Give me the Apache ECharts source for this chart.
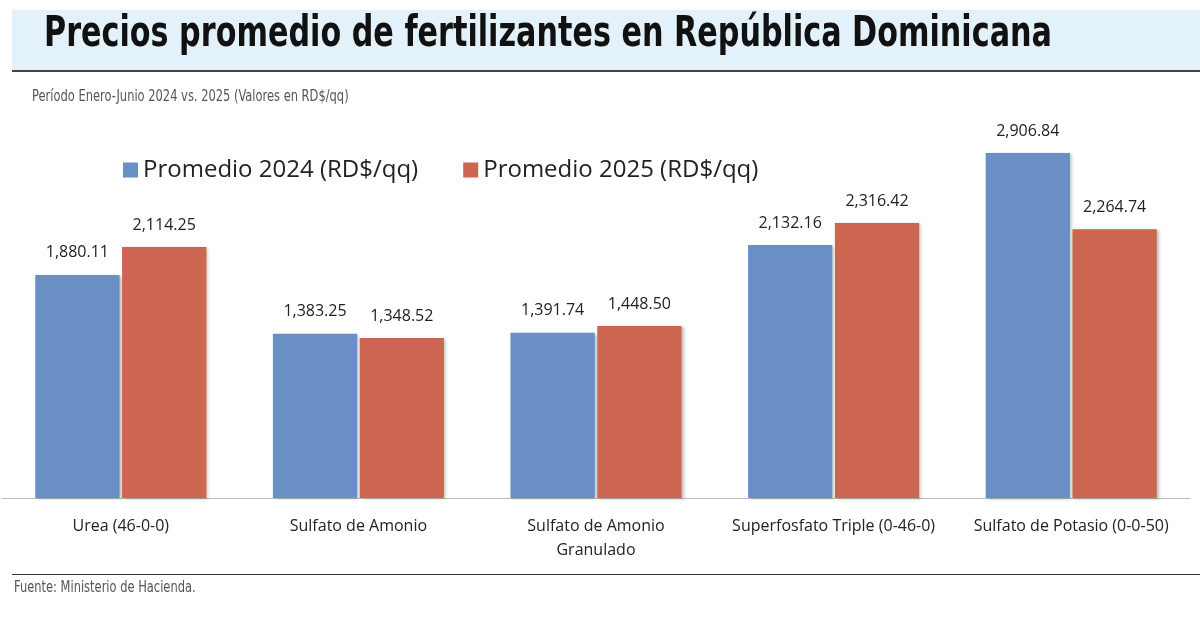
<!DOCTYPE html>
<html><head><meta charset="utf-8">
<script src="https://cdn.jsdelivr.net/npm/echarts@6/dist/echarts.min.js"></script>
<style>html,body{margin:0;background:#fff}#c{width:1200px;height:621px}</style>
</head><body><div id="c"></div>
<script>
const categories = ['Urea (46-0-0)', 'Sulfato de Amonio', 'Sulfato de Amonio\nGranulado', 'Superfosfato Triple (0-46-0)', 'Sulfato de Potasio (0-0-50)'];
const prom2024 = [1880.11, 1383.25, 1391.74, 2132.16, 2906.84];
const prom2025 = [2114.25, 1348.52, 1448.50, 2316.42, 2264.74];

const BLUE = '#6a8fc4';
const RED  = '#cd6651';
const fmt = v => v.toLocaleString('en-US', { minimumFractionDigits: 2, maximumFractionDigits: 2 });

const chart = echarts.init(document.getElementById('c'));
const label = {
    show: true, position: 'top', distance: 14, color: '#222',
    fontFamily: 'Open Sans, sans-serif', fontSize: 16,
    formatter: p => fmt(p.value)
};
const shadow = { shadowColor: 'rgba(0,0,0,0.25)', shadowBlur: 3, shadowOffsetX: 2, shadowOffsetY: 1 };

chart.setOption({
    animation: false,
    graphic: [
        { type: 'rect', shape: { x: 12, y: 10, width: 1188, height: 60 }, style: { fill: '#e3f1fb' } },
        { type: 'rect', shape: { x: 12, y: 70, width: 1188, height: 2 }, style: { fill: '#444' } },
        { type: 'text', x: 44, y: 14, scaleX: 0.8, style: { text: 'Precios promedio de fertilizantes en República Dominicana',
            font: 'bold 42px "DejaVu Sans Condensed", sans-serif', fill: '#111' } },
        { type: 'text', x: 32, y: 90, scaleX: 0.85, style: { text: 'Período Enero-Junio 2024 vs. 2025 (Valores en RD$/qq)',
            font: '15px "DejaVu Sans Condensed", sans-serif', fill: '#555' } },
        { type: 'rect', shape: { x: 12, y: 574, width: 1188, height: 1 }, style: { fill: '#333' } },
        { type: 'text', x: 14, y: 581, scaleX: 0.85, style: { text: 'Fuente: Ministerio de Hacienda.',
            font: '15px "DejaVu Sans Condensed", sans-serif', fill: '#555' } }
    ],
    legend: {
        top: 153, left: 118, itemWidth: 15, itemHeight: 15, itemGap: 45,
        textStyle: { fontFamily: 'Open Sans, sans-serif', fontSize: 24, color: '#222' },
        data: [{ name: 'Promedio 2024 (RD$/qq)', icon: 'rect' }, { name: 'Promedio 2025 (RD$/qq)', icon: 'rect' }]
    },
    grid: { left: 2, right: 10, top: 142, bottom: 123 },
    xAxis: {
        type: 'category', data: categories,
        axisLine: { lineStyle: { color: '#bbb' } }, axisTick: { show: false },
        axisLabel: { interval: 0, color: '#222', fontFamily: 'Open Sans, sans-serif', fontSize: 16, margin: 16, lineHeight: 24 }
    },
    yAxis: { type: 'value', min: 0, max: 3000, show: false, splitLine: { show: false } },
    series: [
        { name: 'Promedio 2024 (RD$/qq)', type: 'bar', data: prom2024, barGap: '3%', barCategoryGap: '28%',
          itemStyle: { color: BLUE, ...shadow }, label },
        { name: 'Promedio 2025 (RD$/qq)', type: 'bar', data: prom2025,
          itemStyle: { color: RED, ...shadow }, label }
    ]
});
</script></body></html>
